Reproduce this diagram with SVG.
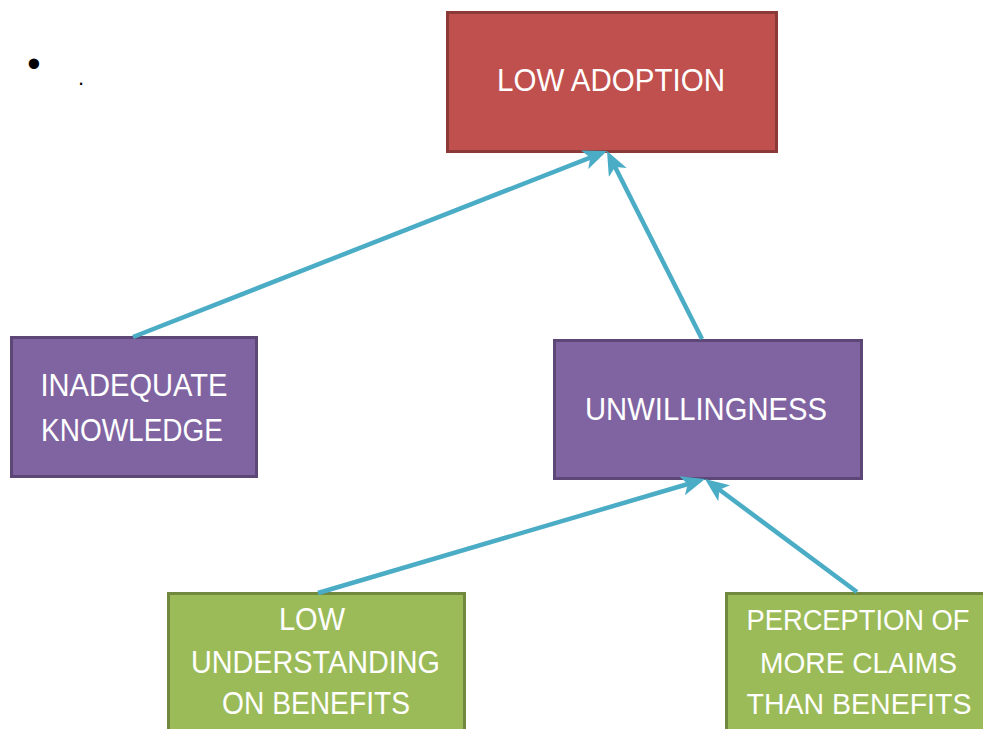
<svg xmlns="http://www.w3.org/2000/svg" width="983" height="729" viewBox="0 0 983 729">
  <style>
    .box { stroke-width: 3; }
    .red { fill: #C0504D; stroke: #8C3A38; }
    .purple { fill: #8064A2; stroke: #5C4776; }
    .green { fill: #9BBB59; stroke: #71893F; }
    .label { font-family: "Liberation Sans", Arial, sans-serif; font-size: 31px; fill: #FFFFFF; text-anchor: middle; }
    .edge-label { font-size: 29px; }
    .mark { font-family: "Liberation Sans", Arial, sans-serif; fill: #000000; }
    .link { stroke: #4BACC6; stroke-width: 4.5; fill: none; marker-end: url(#head); }
  </style>
  <defs>
    <marker id="head" markerUnits="userSpaceOnUse" viewBox="0 0 24 20" markerWidth="24" markerHeight="20" refX="8" refY="10" orient="auto">
      <path d="M0,0 L24,10 L0,20 L6,10 z" fill="#4BACC6"/>
    </marker>
  </defs>
  <rect width="983" height="729" fill="#FFFFFF"/>

  <text class="mark" x="34" y="76.5" font-size="38" text-anchor="middle">•</text>
  <text class="mark" x="81" y="85" font-size="22" text-anchor="middle">.</text>

  <g id="low-adoption">
    <rect class="box red" x="447.5" y="12.5" width="329" height="139"/>
    <text class="label" x="611" y="91" textLength="228" lengthAdjust="spacingAndGlyphs">LOW ADOPTION</text>
  </g>

  <g id="inadequate-knowledge">
    <rect class="box purple" x="11.5" y="337.5" width="245" height="139"/>
    <text class="label" x="134" y="396" textLength="187" lengthAdjust="spacingAndGlyphs">INADEQUATE</text>
    <text class="label" x="132" y="441" textLength="182" lengthAdjust="spacingAndGlyphs">KNOWLEDGE</text>
  </g>

  <g id="unwillingness">
    <rect class="box purple" x="554.5" y="340.5" width="307" height="138"/>
    <text class="label" x="706" y="420" textLength="242" lengthAdjust="spacingAndGlyphs">UNWILLINGNESS</text>
  </g>

  <g id="low-understanding">
    <rect class="box green" x="168.5" y="593.5" width="296" height="150"/>
    <text class="label" x="312" y="630" textLength="66" lengthAdjust="spacingAndGlyphs">LOW</text>
    <text class="label" x="315.5" y="673" textLength="249" lengthAdjust="spacingAndGlyphs">UNDERSTANDING</text>
    <text class="label" x="316" y="714" textLength="188" lengthAdjust="spacingAndGlyphs">ON BENEFITS</text>
  </g>

  <g id="perception">
    <rect class="box green" x="726.5" y="593.5" width="270" height="150"/>
    <text class="label edge-label" x="858" y="630" textLength="223" lengthAdjust="spacingAndGlyphs">PERCEPTION OF</text>
    <text class="label edge-label" x="858.5" y="673" textLength="197" lengthAdjust="spacingAndGlyphs">MORE CLAIMS</text>
    <text class="label edge-label" x="859" y="714" textLength="225" lengthAdjust="spacingAndGlyphs">THAN BENEFITS</text>
  </g>

  <g id="connectors">
    <line class="link" x1="133" y1="337" x2="592.1" y2="156.8"/>
    <line class="link" x1="702" y1="339" x2="614.2" y2="165.3"/>
    <line class="link" x1="318" y1="593" x2="689.7" y2="483.5"/>
    <line class="link" x1="857" y1="592" x2="717.8" y2="488.5"/>
  </g>
</svg>
